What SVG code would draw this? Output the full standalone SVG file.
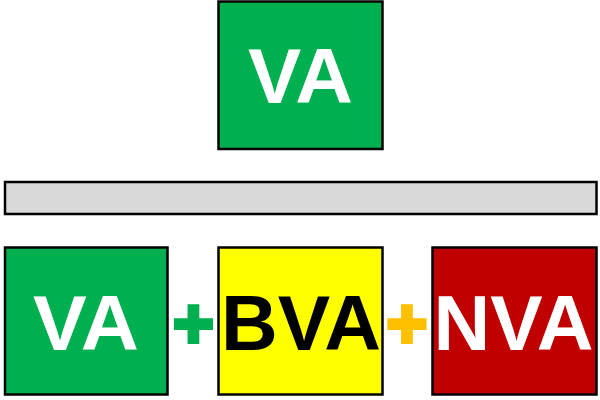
<svg xmlns="http://www.w3.org/2000/svg" width="600" height="400" viewBox="0 0 600 400">
<style>
.box{stroke:#000;stroke-width:2.5}
.lbl{font-family:"Liberation Sans",Arial,sans-serif;font-weight:bold;font-size:77px}
.w{fill:#fff}
.k{fill:#000}
.plus{font-family:"Liberation Sans",Arial,sans-serif;font-weight:bold;font-size:70px;text-anchor:middle;stroke-width:4;stroke-linejoin:miter}
</style>
<rect width="600" height="400" fill="#fff"/>
<g id="top-va">
<rect class="box" x="218.5" y="1.5" width="164" height="147.5" fill="#00B050"/>
<text class="lbl w" x="248" y="103" textLength="105" lengthAdjust="spacingAndGlyphs">VA</text>
</g>
<g id="bar">
<rect class="box" x="5" y="182" width="591.5" height="32" fill="#D9D9D9"/>
</g>
<g id="va">
<rect class="box" x="5" y="247.5" width="162.5" height="147" fill="#00B050"/>
<text class="lbl w" x="33" y="349.5" textLength="106" lengthAdjust="spacingAndGlyphs">VA</text>
</g>
<g id="bva">
<rect class="box" x="218.5" y="247.5" width="164" height="147" fill="#FFFF00"/>
<text class="lbl k" x="221" y="350" font-size="80" textLength="160" lengthAdjust="spacingAndGlyphs">BVA</text>
</g>
<g id="nva">
<rect class="box" x="432.5" y="247.5" width="164" height="147" fill="#C00000"/>
<text class="lbl w" x="433.5" y="350" textLength="160" lengthAdjust="spacingAndGlyphs">NVA</text>
</g>
<g id="plus1">
<text class="plus" x="193.5" y="348" fill="#00B050" stroke="#00B050">+</text>
</g>
<g id="plus2">
<text class="plus" x="407" y="348" fill="#FFC000" stroke="#FFC000">+</text>
</g>
</svg>
